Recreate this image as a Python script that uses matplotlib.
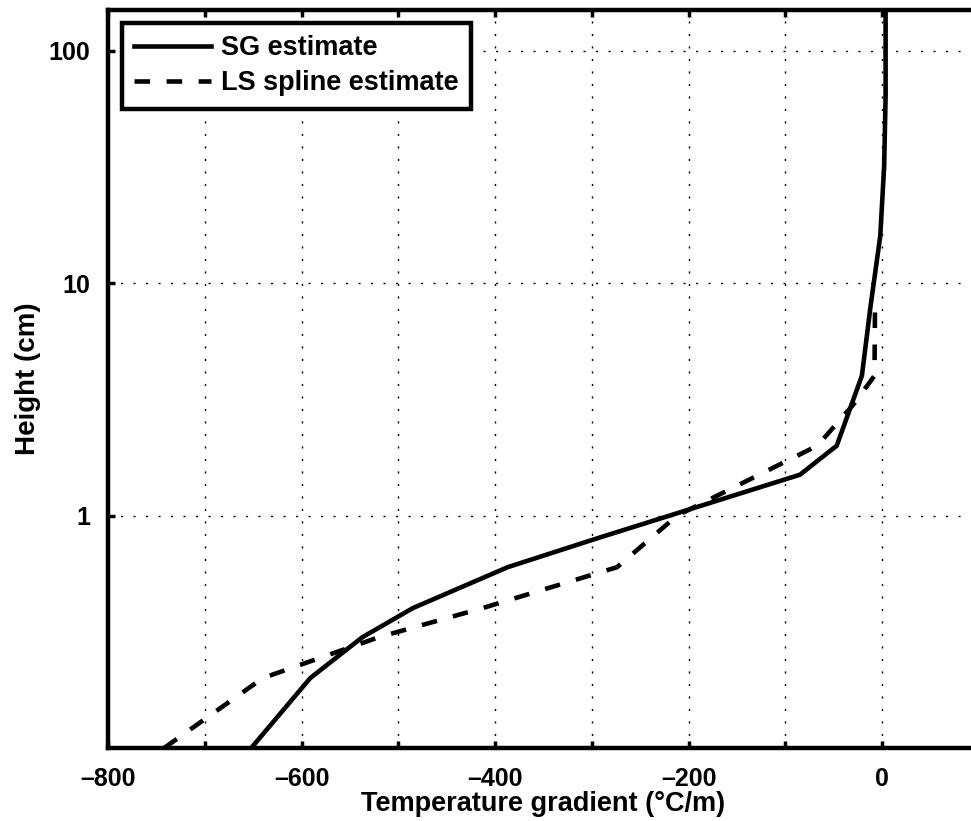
import matplotlib
matplotlib.use("Agg")
import matplotlib.pyplot as plt
from matplotlib.ticker import FixedLocator, FixedFormatter, NullLocator

plt.rcParams['font.family'] = ['Liberation Sans', 'DejaVu Sans']
plt.rcParams['font.weight'] = 'bold'

# SG estimate (solid)
sg_height = [0.1, 0.2, 0.3, 0.4, 0.6, 0.8, 1.5, 2, 4, 8, 16, 32, 64, 150]
sg_grad = [-652, -591, -537, -485, -387, -294, -85, -47, -21, -12, -2, 2, 3.5, 3.5]

# LS spline estimate (dashed)
ls_height = [0.1, 0.2, 0.3, 0.4, 0.6, 1.0, 2, 3, 4, 7.5]
ls_grad = [-742, -640, -520, -413, -274, -212, -67, -30, -8, -7.5]

xticks = [-800, -700, -600, -500, -400, -300, -200, -100, 0, 100]
xticklabels = ['\u2013800', '', '\u2013600', '', '\u2013400', '', '\u2013200', '', '0', '']
yticks = [1, 10, 100]
yticklabels = ['1', '10', '100']

fig = plt.figure(figsize=(9.71, 8.21), dpi=100)
ax = fig.add_axes([108 / 971, 73 / 821, 871 / 971, 738 / 821])

ax.plot(sg_grad, sg_height, '-', color='black', lw=3.3, label='SG estimate',
        solid_joinstyle='miter')
ax.plot(ls_grad, ls_height, '--', color='black', lw=3.3, dashes=(3.4, 3.6),
        dash_capstyle='butt', label='LS spline estimate')

ax.set_yscale('log')
ax.set_xlim(-800, 100)
ax.set_ylim(0.1, 150)

ax.xaxis.set_major_locator(FixedLocator(xticks))
ax.xaxis.set_major_formatter(FixedFormatter(xticklabels))
ax.yaxis.set_major_locator(FixedLocator(yticks))
ax.yaxis.set_major_formatter(FixedFormatter(yticklabels))
ax.yaxis.set_minor_locator(NullLocator())

ax.grid(True, which='major', color='black', lw=1.0, linestyle=(0, (1.5, 7.5)))
ax.tick_params(direction='in', length=5, width=2.5, top=True, right=True,
               labelsize=18)
ax.tick_params(axis='x', pad=14)
ax.tick_params(axis='y', pad=13)
for lab in ax.get_xticklabels() + ax.get_yticklabels():
    lab.set_fontweight('bold')
for sp in ax.spines.values():
    sp.set_linewidth(3.2)

ax.set_xlabel('Temperature gradient (\u00b0C/m)', fontsize=19.5, fontweight='bold', labelpad=0)
ax.set_ylabel('Height (cm)', fontsize=20, fontweight='bold', labelpad=5)

leg = ax.legend(loc='upper left', bbox_to_anchor=(0.0155, 0.982), fontsize=19.5,
                fancybox=False, framealpha=1, edgecolor='black', handlelength=2.85,
                handletextpad=0.38, borderpad=0.45, labelspacing=0.33, borderaxespad=0)
leg.get_frame().set_linewidth(3.2)
for t in leg.get_texts():
    t.set_fontweight('bold')

fig.savefig('out.png', dpi=100)
